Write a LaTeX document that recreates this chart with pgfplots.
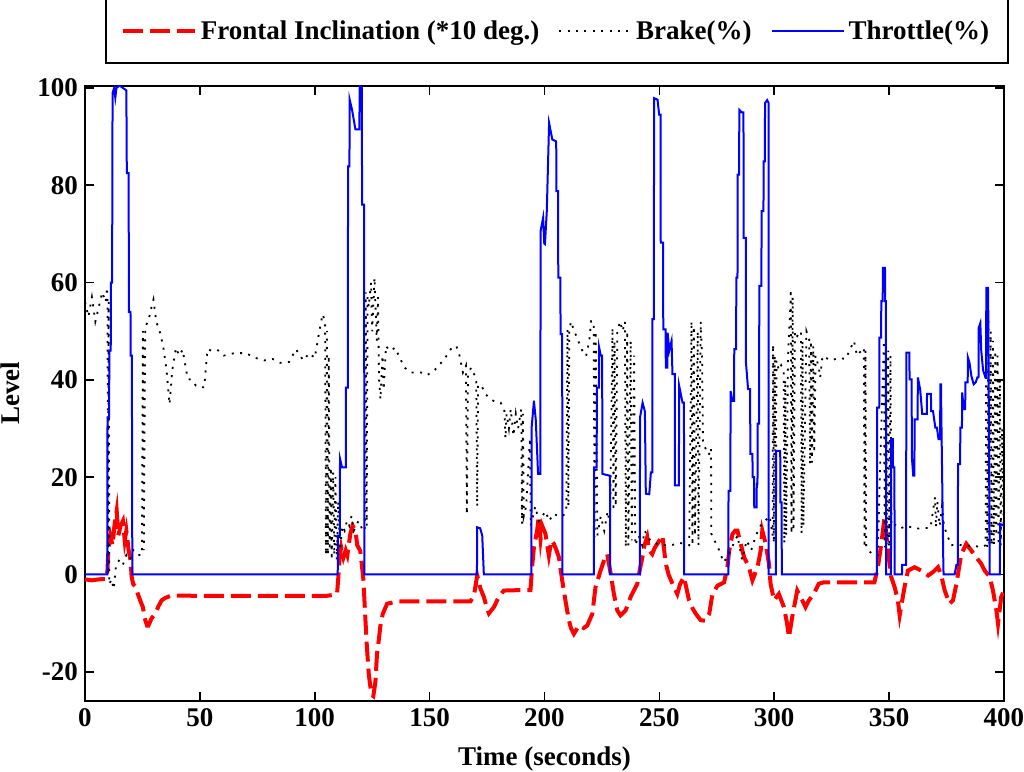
\documentclass[border=0pt]{standalone}
\usepackage{pgfplots}
\pgfplotsset{compat=1.18}
\usepackage{fontspec}
\setmainfont{Liberation Serif}
\newcommand{\ff}{\bfseries\fontsize{13.5}{16}\selectfont}
\definecolor{tred}{RGB}{255,0,0}
\definecolor{tblue}{RGB}{0,0,255}
\begin{document}
\begin{tikzpicture}
\path[use as bounding box] (-42.5pt,-35.5pt) rectangle (469.5pt,350.5pt);
\begin{axis}[
  at={(0,0)}, anchor=south west,
  scale only axis, width=459.5pt, height=307.5pt,
  xmin=0, xmax=400, ymin=-26, ymax=100.4,
  xtick={0,50,...,400}, ytick={-20,0,20,40,60,80,100},
  /pgf/number format/assume math mode=true,
  ticklabel style={font=\ff},
  label style={font=\ff},
  xlabel={Time (seconds)},
  ylabel={Level},
  xlabel style={at={(axis description cs:0.5,0)}, anchor=center, yshift=-29pt},
  ylabel style={at={(axis description cs:-0.0816,0.5)}, anchor=center, rotate=0},
  axis line style={line width=1pt},
  major tick length=4.5pt,
  tick style={line width=0.8pt, black},
  legend columns=3,
  legend style={at={(1,1)}, anchor=south east, xshift=2.5pt, yshift=11pt,
    font=\ff, draw=black, line width=0.9pt, inner xsep=7.5pt, inner ysep=8.5pt,
    /tikz/every even column/.append style={column sep=7.5pt}},
  legend cell align=left,
  legend image code/.code={\draw[#1] (0pt,0pt) -- (36pt,0pt);},
]
% Frontal inclination (*10 deg.)
\addplot[tred, line width=2pt, dash pattern=on 10pt off 3.5pt] coordinates {
(0,-1)(3,-1.2)(6,-1)(9.3,-0.9)(9.8,1)(10.2,5.6)(11,8)(12,6)(12.8,10)(13.8,13.1)(14.5,8)(15.5,10)(16.5,11)(17.3,7)(18,9)(19,5)(19.8,3)(20.3,-0.5)(21,-2)(22,-2.5)(23,-4)(24,-5.3)(25.2,-6.7)(26,-9)(27,-10.5)(27.6,-10.5)(29,-9)(30.5,-8.1)(32,-6.5)(33.4,-5.3)(35,-4.8)(37.7,-4.3)(50,-4.4)(70,-4.4)(90,-4.4)(105,-4.4)(108,-4.2)(109.7,-4)(110.2,-1)(110.8,3.5)(111.5,5.6)(112.5,3.5)(113.5,5)(114.2,4)(115.5,8.4)(116.5,10)(117.7,9)(118.5,6)(119.8,4.9)(120.5,2)(121.2,-1.2)(122,-8.8)(122.7,-14.9)(123.5,-20.4)(124.2,-23)(124.9,-24.8)(125.5,-25)(126.4,-22.1)(127.1,-16.3)(128,-13)(128.5,-10.8)(129.6,-8.1)(131.5,-6)(136.5,-5.5)(150,-5.5)(160,-5.5)(167.8,-5.5)(169.3,-4.3)(170.7,-0.2)(172.2,-3)(173.6,-4.6)(174.8,-6.7)(175.8,-8)(178,-6.7)(180.1,-4.6)(182.3,-3.3)(190,-3.2)(193.9,-3.2)(194.6,1.5)(195.4,5.6)(196.8,9)(197.5,12)(198.3,7.3)(199,10)(200.4,8.4)(201.9,3.9)(203,7)(204.1,6.3)(205.2,5)(206.3,3.5)(207.7,-1.2)(209.1,-5.3)(210.6,-9.4)(211.5,-11)(212.8,-12.2)(215,-10.5)(217,-11)(218.6,-10.5)(220.8,-8.1)(222.2,-2.6)(224.4,0.8)(226,3)(227.3,4.2)(228.8,0.2)(230.2,-4)(231.7,-7.4)(233.1,-8.4)(235.3,-7.4)(237.5,-4.6)(240.4,-1.9)(241.5,1)(242.6,3.5)(243.5,6)(244.7,7.7)(245.5,5)(246.9,4.2)(248,5.5)(249.1,6.3)(250,7)(251.3,8)(252.8,2.2)(254,0)(255.7,-1.9)(257.8,-4)(259,-2)(260.7,-0.5)(262.9,-5.3)(264.5,-7)(265.9,-8.1)(268,-9.4)(270,-9.5)(271.7,-8.1)(273.1,-4)(275.3,-2.3)(278.2,-1.6)(279.6,1.5)(280.4,4.9)(281.8,8.3)(283,9)(284,9)(285.4,6.3)(286.9,3.5)(289,1.5)(290.5,-1.2)(292.7,1.5)(294.1,4.9)(294.8,9)(296.3,6.3)(297.7,2.2)(298.4,-1.9)(299.9,-5.3)(302,-4)(304.2,-6.7)(305.6,-10.1)(306.4,-12.9)(307.8,-8.8)(310,-3.3)(312.2,-5.3)(313.6,-6.7)(315.1,-5.3)(317.2,-4)(319.4,-1.9)(321.6,-1.6)(330,-1.6)(340,-1.6)(343.6,-1.6)(345.1,1.5)(346.6,6.3)(348,11.8)(349.5,4.9)(350.9,-0.5)(352.4,-2.6)(353.8,-5.3)(354.6,-8.4)(356.7,-2.6)(358.2,0.8)(361.1,1.5)(364,0.8)(367,-0.2)(369.1,0.5)(371.3,1.5)(372.7,-0.2)(374.2,-3.3)(376.3,-6)(377.8,-5.3)(379.3,-1.9)(381.4,4.2)(383.6,6.3)(385.8,4.9)(388,3.5)(390.1,2.2)(391.6,0.8)(393.8,-0.5)(395.2,-3.3)(396.7,-7.4)(397.4,-10.1)(398.8,-4.6)(400,-3.3)
};
\addlegendentry{Frontal Inclination (*10 deg.)}
% Brake (%)
\addplot[black, line width=0.9pt, dash pattern=on 1pt off 3.2pt] coordinates {
(0,56)(1.5,53)(3,57)(4.5,52)(6,55)(7.5,58)(9,56)(9.6,59)(9.8,57)(10,0)(10.3,56)(10.6,-2)(11.5,-1)(12.5,-3)(13.5,2)(15,3)(16.5,2)(18,4)(19.5,3)(21,5)(23,4)(24.8,4)(25.2,50)(25.6,5)(26.2,51)(27.5,52)(29,55)(29.8,56.5)(31,52)(32.5,50)(34,47)(35.5,42)(36.8,35)(38,42)(39.6,46.6)(41,45)(42.5,46.2)(44.7,40.2)(46.5,40)(48.3,38.8)(50.5,38.5)(51.9,38.5)(53.3,46.3)(55,46)(57.6,46.2)(60.5,45)(65,45.5)(70,45.5)(74.3,44.5)(78,44)(81.6,44.3)(85,43.5)(88.9,43.7)(91.8,46.3)(95,44)(97.6,45.5)(100,44.5)(102,50)(103.4,53.5)(104.5,52)(104.9,4)(105.3,50)(105.7,4)(106.1,45)(106.5,5)(107,22)(107.4,3)(108,21)(108.5,4)(109,20)(109.6,3)(110.2,15)(111,5)(112,10)(113,9)(114,11)(115,10)(116,12)(117,9)(118,10)(119,11)(120,10)(121,9)(121.8,9)(122.2,58)(122.6,10)(123,57)(123.5,55)(124.5,60)(125,50)(126,61)(127,48)(127.5,57)(128,40)(128.6,36)(129.5,45)(130,38)(131,47)(132.5,46)(135.1,46.6)(136.6,44.9)(139.1,42.5)(142,41.5)(146.4,41.5)(149,41)(152.2,42)(155,43.5)(157.3,44.9)(159.5,46.5)(161.6,47)(163,45)(164.5,41.5)(165.8,42.9)(166.2,12.4)(166.7,41)(168,42.5)(169.5,41)(170.3,40)(170.7,14)(171.1,39)(172.5,38.8)(174.5,37)(176.6,36)(178.5,35.5)(180.9,35.3)(182.5,34)(183,28)(183.5,33)(184.5,30)(185.3,34)(186.5,28.5)(187.5,33)(188.5,30)(189.9,34)(190.2,10.4)(190.6,33)(191,12)(192,14)(193.7,28)(194,10)(195,12)(196,14)(197.5,11)(199,12)(200.5,13)(202,11)(204,12.5)(206,12)(208,12)(209.5,13)(210,50.4)(210.4,14)(210.8,50)(211.5,52)(213,50)(215.2,47.4)(216.5,46)(218.1,44.9)(219.5,48)(220.3,52.1)(221.4,52)(221.8,7.7)(222.3,50)(223,8)(224.5,12)(226,9)(227.5,13)(228.5,10)(229.6,50.7)(230,13.1)(230.5,48)(231,14)(231.7,50)(232.9,52)(234,50)(235,52)(235.4,5.6)(236,50)(236.5,6)(237.5,48)(238,7)(239,45)(239.5,6)(241,8)(242.5,6)(243.6,9)(246,7)(248,6.5)(250.7,6)(253,6)(255,6)(259,6.5)(263,6)(264,52.1)(264.4,6)(265,51)(265.5,8)(266.7,50)(267,6)(268,52)(268.6,44)(269,26.8)(270,26)(271.5,24.6)(272.5,26)(272.6,8.4)(274,7)(276,5)(278,2.5)(280,4)(282,6)(284,8)(286,3)(288,7)(290,5)(292,8)(294,10)(296,11)(298,12)(299.3,8)(299.5,47.3)(299.8,6.4)(300.2,45)(300.6,7)(301,44)(302,42)(303,43)(304.1,41.8)(304.4,6.4)(304.8,40)(305.2,8)(306,45)(307,55)(307.2,58.6)(307.5,8.4)(308,57)(308.4,9)(309,50)(310,49)(311.6,50)(311.9,8.4)(312.3,48)(312.7,10)(314,50)(315.2,48.3)(315.6,22.7)(316,48)(316.4,23)(317,47)(317.4,25)(318,45)(319.4,42.5)(320,40.5)(321,44.9)(324.6,44)(328.2,44.5)(331.1,44.3)(334.7,48)(336,45)(339,46.6)(339.3,5.6)(339.7,46)(340,6)(341,5)(343,4)(345,4)(347.7,48)(348.1,5.6)(348.6,47)(349,6)(349.6,46)(350,5.6)(350.6,45)(351,10)(352,10.4)(355,9.5)(358,10)(361,9.4)(364,9.5)(368,9.6)(370,15.9)(370.4,9.7)(371,15)(372,10)(373,14)(374,9.7)(377,6)(380,6.2)(383,5.8)(386,6)(390,5.6)(392,6)(392.3,54.2)(392.7,5.6)(393.2,52)(393.6,6)(394.2,50)(394.6,6)(395.2,48)(395.6,6)(396.2,46)(396.6,8)(397.2,45)(397.6,6)(398.2,40)(398.6,6)(399.2,30)(400,5)
};
\addlegendentry{Brake(\%)}
% Throttle (%)
\addplot[tblue, line width=1pt] coordinates {
(0,0)(9.7,0)(9.8,32.3)(10.5,32.3)(10.6,46)(11.2,46)(11.3,60)(11.8,60)(12,99)(12.7,100)(13.2,98)(13.7,100)(15,100.5)(18,99.5)(18.2,82.5)(19,82.5)(19.1,54)(19.8,54)(19.9,45)(20.4,45)(20.6,0)
(110,0)(110.1,8)(110.9,8)(111,23.8)(111.9,22)(113.5,22)(113.6,38.4)(114.4,38.4)(114.5,83.9)(115.1,83.9)(115.2,97.6)(116.2,95.6)(117.7,91.5)(119.4,91.5)(119.6,100.5)(120.5,100)(120.6,76)(121.5,76)(121.6,0)
(170.6,0)(170.7,9.7)(172,9.5)(172.9,8)(173.6,0)
(194.3,0)(194.4,30.2)(195.4,35.7)(196.2,31.8)(197.2,20.7)(198.2,20.7)(198.3,70.6)(199.4,73.3)(199.9,68)(200.2,67.9)(201,74.7)(202,92.8)(203.4,89.4)(205.1,89)(205.2,78.8)(205.9,78.8)(206,61)(206.9,61)(207,49.4)(207.7,49.4)(207.8,0)
(221.5,0)(221.6,22)(222.7,22)(222.8,38.4)(223.7,38.4)(223.8,46.6)(224.5,45)(225.1,45)(225.2,20.7)(226.7,20.5)(228.5,20.3)(228.6,0)
(241.5,0)(241.6,32.3)(242.7,35.3)(243.7,33.5)(244.1,16.6)(245.6,16.5)(246.3,21)(246.9,21)(247,52.5)(247.6,52.5)(247.7,97.9)(249.2,97.6)(249.9,94.5)(250.5,94.5)(250.6,68.2)(251.6,68.2)(251.7,50.4)(252.7,50.4)(252.8,42.5)(253.5,42.5)(253.6,49.7)(254.3,46)(255.3,48)(255.7,41.2)(256.7,41.2)(256.8,18.3)(258.5,18.3)(258.6,38.8)(260.1,35.3)(260.7,35.3)(260.8,0)
(280,0)(280.1,17.2)(280.9,17.2)(281,37.7)(281.8,35.7)(282.5,35.7)(282.6,46.3)(283.4,46.3)(283.5,61)(284,61)(284.1,82.2)(284.7,82.2)(284.8,95.5)(285.8,95)(286.6,95)(286.7,69.2)(287.6,69.2)(287.7,43.5)(288.6,38.1)(289.5,38.1)(289.6,24.8)(290.5,24.8)(290.6,20)(291.2,20)(291.3,13.8)(292.3,13.8)(292.4,18.6)(292.7,18.6)(292.8,31)(293.4,31)(293.5,59.3)(294.4,59.3)(294.5,74.7)(295.3,74.7)(295.4,84.9)(295.9,84.9)(296,96.9)(296.9,97.5)(297.5,97)(297.6,0)(300.7,0)(300.8,25.4)(302.6,25.4)(302.7,14.8)(303.2,14.8)(303.3,0)
(344.7,0)(344.8,34.3)(345.7,34.3)(345.8,48.7)(346.5,48.7)(346.6,56.2)(347.2,56.2)(347.3,63)(348.2,63)(348.3,56.2)(348.6,56.2)(348.7,0)(350.8,0)(350.9,27.8)(351.6,27.8)(351.7,22)(352.3,22)(352.4,0)(355.6,0)(355.7,2)(357.4,2)(357.5,45.6)(358.8,45.6)(358.9,40.1)(359.8,40.1)(359.9,24.1)(360.5,20.3)(361,20.3)(361.1,31.9)(362.4,31.9)(362.5,40.5)(363.5,38.1)(364.4,33)(366.4,33)(366.5,37.1)(368.2,37.1)(368.3,33.6)(369.1,33.6)(370.1,30.2)(370.8,30.2)(371.5,27.8)(372.2,27.8)(372.3,39.1)(372.6,39.1)(372.7,33.6)(373.6,2)(373.7,0)(378.5,0)(379.3,2)(379.9,2)(380,22.7)(380.9,22.7)(381,30.2)(381.7,30.2)(381.8,37.4)(382.5,34)(383.1,34)(383.2,39.5)(384.2,39.5)(384.3,44.6)(385,43.5)(385.8,40.8)(386.8,39.1)(387.7,39.5)(388.4,40.5)(388.9,40.5)(389,50.7)(389.7,51.7)(390.1,46)(390.9,42)(391.9,40.5)(392.2,40.5)(392.3,58.9)(393,58.9)(393.1,58)(393.8,0)(398.2,0)(398.3,10.4)(400,10)
};
\addlegendentry{Throttle(\%)}
\end{axis}
\end{tikzpicture}
\end{document}
